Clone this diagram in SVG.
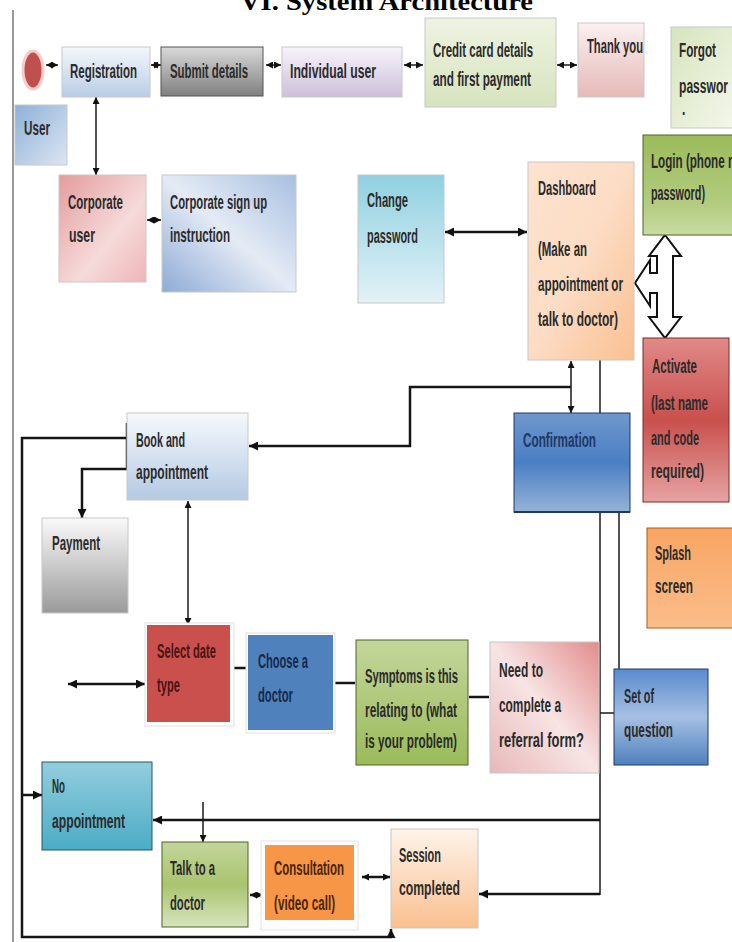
<svg xmlns="http://www.w3.org/2000/svg" width="732" height="942" viewBox="0 0 732 942">
<defs>
<style>
.t{font-family:"Liberation Sans",Arial,sans-serif;font-weight:bold;font-size:20px;fill:#2b2b2b}
.c{fill:none;stroke:#151515;stroke-width:2.5}
.th{fill:none;stroke:#1a1a1a;stroke-width:1.5}
.box{stroke:#c8c8c8;stroke-width:1}
</style>
<marker id="ah" viewBox="0 0 10 10" refX="10" refY="5" markerWidth="9" markerHeight="9" markerUnits="userSpaceOnUse" orient="auto-start-reverse"><path d="M0,0 L10,5 L0,10 Z" fill="#111"/></marker>
<marker id="as" viewBox="0 0 10 10" refX="10" refY="5" markerWidth="7" markerHeight="7" markerUnits="userSpaceOnUse" orient="auto-start-reverse"><path d="M0,0 L10,5 L0,10 Z" fill="#111"/></marker>
<linearGradient id="gReg" x1="0" y1="0" x2="0" y2="1"><stop offset="0" stop-color="#f4f7fb"/><stop offset="1" stop-color="#b9cde5"/></linearGradient>
<linearGradient id="gSub" x1="0" y1="0" x2="0" y2="1"><stop offset="0" stop-color="#d9d9d9"/><stop offset="1" stop-color="#7f7f7f"/></linearGradient>
<linearGradient id="gInd" x1="0" y1="0" x2="0" y2="1"><stop offset="0" stop-color="#f7f4fa"/><stop offset="1" stop-color="#ccc0da"/></linearGradient>
<linearGradient id="gCre" x1="0" y1="0" x2="0" y2="1"><stop offset="0" stop-color="#eef3e2"/><stop offset="1" stop-color="#d7e4bd"/></linearGradient>
<linearGradient id="gThk" x1="0" y1="0" x2="0" y2="1"><stop offset="0" stop-color="#fbf0f0"/><stop offset="1" stop-color="#e6b9b8"/></linearGradient>
<linearGradient id="gFor" x1="0" y1="0" x2="1" y2="1"><stop offset="0" stop-color="#d7e4bd"/><stop offset="1" stop-color="#f4f8ec"/></linearGradient>
<linearGradient id="gUsr" x1="0" y1="0" x2="1" y2="1"><stop offset="0" stop-color="#8eb0d8"/><stop offset="1" stop-color="#dce6f2"/></linearGradient>
<linearGradient id="gCu" x1="0" y1="0" x2="1" y2="1"><stop offset="0" stop-color="#e49c9c"/><stop offset="0.6" stop-color="#f6dada"/><stop offset="1" stop-color="#eeb6b6"/></linearGradient>
<linearGradient id="gCs" x1="0" y1="1" x2="1" y2="0"><stop offset="0" stop-color="#8eaad6"/><stop offset="0.5" stop-color="#e4ebf5"/><stop offset="1" stop-color="#a8bfe0"/></linearGradient>
<linearGradient id="gChg" x1="0" y1="0" x2="0" y2="1"><stop offset="0" stop-color="#8fd0e0"/><stop offset="1" stop-color="#e3f2f7"/></linearGradient>
<linearGradient id="gDash" x1="0" y1="0" x2="1" y2="1"><stop offset="0" stop-color="#fde3cf"/><stop offset="0.5" stop-color="#fcdcc4"/><stop offset="1" stop-color="#fac090"/></linearGradient>
<linearGradient id="gLog" x1="0" y1="0" x2="0" y2="1"><stop offset="0" stop-color="#9bbb59"/><stop offset="0.7" stop-color="#b3cc80"/><stop offset="1" stop-color="#c9dca3"/></linearGradient>
<linearGradient id="gAct" x1="0" y1="0" x2="0" y2="1"><stop offset="0" stop-color="#e08a88"/><stop offset="0.5" stop-color="#c9504d"/><stop offset="1" stop-color="#e6a3a2"/></linearGradient>
<linearGradient id="gSpl" x1="0" y1="0" x2="0" y2="1"><stop offset="0" stop-color="#f8a563"/><stop offset="1" stop-color="#fbbd8a"/></linearGradient>
<linearGradient id="gCon" x1="0" y1="0" x2="0" y2="1"><stop offset="0" stop-color="#6f97cc"/><stop offset="0.5" stop-color="#4a7fc4"/><stop offset="1" stop-color="#95b3d7"/></linearGradient>
<linearGradient id="gBook" x1="0" y1="0" x2="0" y2="1"><stop offset="0" stop-color="#f6f9fc"/><stop offset="1" stop-color="#b4c9e3"/></linearGradient>
<linearGradient id="gPay" x1="0" y1="0" x2="0" y2="1"><stop offset="0" stop-color="#fafafa"/><stop offset="1" stop-color="#9a9a9a"/></linearGradient>
<linearGradient id="gSym" x1="0" y1="0" x2="0" y2="1"><stop offset="0" stop-color="#c3d69b"/><stop offset="1" stop-color="#9bbb59"/></linearGradient>
<linearGradient id="gNeed" x1="0" y1="1" x2="1" y2="0"><stop offset="0" stop-color="#e8b8b8"/><stop offset="0.5" stop-color="#f8e4e4"/><stop offset="1" stop-color="#e28c8c"/></linearGradient>
<linearGradient id="gSet" x1="0" y1="0" x2="0" y2="1"><stop offset="0" stop-color="#5a8ace"/><stop offset="0.5" stop-color="#a6c0e3"/><stop offset="1" stop-color="#4f81bd"/></linearGradient>
<linearGradient id="gNo" x1="0" y1="0" x2="0" y2="1"><stop offset="0" stop-color="#93cddd"/><stop offset="1" stop-color="#4bacc6"/></linearGradient>
<linearGradient id="gTalk" x1="0" y1="0" x2="0" y2="1"><stop offset="0" stop-color="#c3d69b"/><stop offset="0.5" stop-color="#a9c46f"/><stop offset="1" stop-color="#d7e4bd"/></linearGradient>
<linearGradient id="gSes" x1="0" y1="0" x2="0" y2="1"><stop offset="0" stop-color="#fef3ea"/><stop offset="1" stop-color="#fac090"/></linearGradient>
</defs>
<rect width="732" height="942" fill="#fff"/>
<text x="240" y="10" font-family="'Liberation Serif',serif" font-weight="bold" font-size="25" fill="#000" textLength="293" lengthAdjust="spacingAndGlyphs">VI. System Architecture</text>
<line x1="13" y1="10" x2="13" y2="942" stroke="#777" stroke-width="1.5"/>

<g id="connectors">
<line class="th" x1="46" y1="65" x2="58" y2="65" marker-start="url(#as)" marker-end="url(#as)"/>
<line class="th" x1="151" y1="65" x2="161" y2="65" marker-start="url(#as)" marker-end="url(#as)"/>
<line class="th" x1="266" y1="65" x2="281" y2="65" marker-start="url(#as)" marker-end="url(#as)"/>
<line class="th" x1="404" y1="65" x2="423" y2="65" marker-start="url(#as)" marker-end="url(#as)"/>
<line class="th" x1="557" y1="65" x2="577" y2="65" marker-start="url(#as)" marker-end="url(#as)"/>
<line class="th" x1="96" y1="97" x2="96" y2="175" marker-start="url(#as)" marker-end="url(#as)"/>
<line class="th" x1="147" y1="220" x2="161" y2="220" marker-start="url(#as)" marker-end="url(#as)"/>
<line class="c" x1="445" y1="232" x2="527" y2="232" marker-start="url(#ah)" marker-end="url(#ah)"/>
<line class="th" x1="571" y1="361" x2="571" y2="413" marker-start="url(#as)" marker-end="url(#as)"/>
<path class="c" d="M571,387 H410 V446 H249" marker-end="url(#ah)"/>
<line class="th" x1="600" y1="360" x2="600" y2="895" stroke-width="2"/>
<line class="th" x1="619" y1="512" x2="619" y2="669" stroke-width="2"/>
<line class="th" x1="600" y1="713" x2="614" y2="713" stroke-width="2"/>
<path class="c" d="M600,820 H153" marker-end="url(#ah)"/>
<path class="c" d="M600,894 H479" marker-end="url(#ah)"/>
<line class="c" x1="127" y1="423" x2="127" y2="470"/>
<path class="c" d="M127,438 H22 V937 H391 V929" marker-end="url(#ah)"/>
<path class="c" d="M127,469 H82 V518" marker-end="url(#ah)"/>
<path class="c" d="M22,795 H42" marker-end="url(#ah)"/>
<line class="th" x1="188" y1="501" x2="188" y2="625" marker-start="url(#as)" marker-end="url(#as)"/>
<line class="c" x1="68" y1="684" x2="145" y2="684" marker-start="url(#ah)" marker-end="url(#ah)"/>
<line class="c" x1="231" y1="668" x2="247" y2="668"/>
<line class="c" x1="334" y1="683" x2="355" y2="683"/>
<line class="c" x1="469" y1="697" x2="489" y2="697"/>
<path class="th" d="M203,802 V842" marker-end="url(#as)"/>
<line class="c" x1="250" y1="895" x2="263" y2="895" stroke-width="2" marker-start="url(#as)" marker-end="url(#as)"/>
<line class="c" x1="362" y1="877" x2="390" y2="877" stroke-width="2" marker-start="url(#as)" marker-end="url(#as)"/>
<polygon points="665,235 681,256 673,256 673,317 681,317 665,338 649,317 657,317 657,293 650,293 650,306 635,283 650,260 650,273 657,273 657,256 649,256" fill="#fff" stroke="#111" stroke-width="2" stroke-linejoin="miter"/>
</g>

<g id="user-start"><ellipse cx="33" cy="70" rx="10" ry="19" fill="#c0504d" stroke="#f3cccc" stroke-width="3"/></g>
<g id="registration"><rect class="box" x="62" y="47" width="88" height="50" fill="url(#gReg)"/><text class="t" transform="translate(70,78) scale(0.6,1)" textLength="111.7" lengthAdjust="spacingAndGlyphs">Registration</text></g>
<g id="submit-details"><rect x="161" y="47" width="102" height="49" fill="url(#gSub)" stroke="#555"/><text class="t" transform="translate(170,78) scale(0.6,1)" textLength="130" lengthAdjust="spacingAndGlyphs">Submit details</text></g>
<g id="individual-user"><rect class="box" x="282" y="47" width="120" height="50" fill="url(#gInd)"/><text class="t" transform="translate(290,78) scale(0.6,1)" textLength="143.3" lengthAdjust="spacingAndGlyphs">Individual user</text></g>
<g id="credit-card"><rect class="box" x="425" y="18" width="131" height="89" fill="url(#gCre)"/><text class="t" transform="translate(433,57) scale(0.6,1)" textLength="166.7" lengthAdjust="spacingAndGlyphs">Credit card details</text><text class="t" transform="translate(433,86) scale(0.6,1)" textLength="163.3" lengthAdjust="spacingAndGlyphs">and first payment</text></g>
<g id="thank-you"><rect class="box" x="578" y="23" width="66" height="74" fill="url(#gThk)"/><text class="t" transform="translate(587,53) scale(0.6,1)" textLength="93.3" lengthAdjust="spacingAndGlyphs">Thank you</text></g>
<g id="forgot-password"><rect class="box" x="671" y="27" width="70" height="101" fill="url(#gFor)"/><text class="t" transform="translate(679,57) scale(0.6,1)" textLength="61.7" lengthAdjust="spacingAndGlyphs">Forgot</text><text class="t" transform="translate(679,93) scale(0.6,1)" textLength="81.7" lengthAdjust="spacingAndGlyphs">passwor</text><text class="t" transform="translate(682,115) scale(0.6,1)">.</text></g>
<g id="user"><rect class="box" x="15" y="105" width="52" height="60" fill="url(#gUsr)"/><text class="t" transform="translate(24,135) scale(0.6,1)" textLength="43.3" lengthAdjust="spacingAndGlyphs">User</text></g>
<g id="corporate-user"><rect class="box" x="59" y="175" width="87" height="107" fill="url(#gCu)"/><text class="t" transform="translate(68,209) scale(0.6,1)" textLength="91.7" lengthAdjust="spacingAndGlyphs">Corporate</text><text class="t" transform="translate(69,242) scale(0.6,1)" textLength="43.3" lengthAdjust="spacingAndGlyphs">user</text></g>
<g id="corporate-signup"><rect class="box" x="162" y="175" width="134" height="117" fill="url(#gCs)"/><text class="t" transform="translate(170,209) scale(0.6,1)" textLength="161.7" lengthAdjust="spacingAndGlyphs">Corporate sign up</text><text class="t" transform="translate(170,242) scale(0.6,1)" textLength="100" lengthAdjust="spacingAndGlyphs">instruction</text></g>
<g id="change-password"><rect class="box" x="358" y="175" width="86" height="128" fill="url(#gChg)"/><text class="t" transform="translate(367,207) scale(0.6,1)" textLength="68.3" lengthAdjust="spacingAndGlyphs">Change</text><text class="t" transform="translate(367,243) scale(0.6,1)" textLength="85" lengthAdjust="spacingAndGlyphs">password</text></g>
<g id="dashboard"><rect class="box" x="528" y="162" width="106" height="198" fill="url(#gDash)"/><text class="t" transform="translate(538,195) scale(0.6,1)" textLength="96.7" lengthAdjust="spacingAndGlyphs">Dashboard</text><text class="t" transform="translate(538,256) scale(0.6,1)" textLength="81.7" lengthAdjust="spacingAndGlyphs">(Make an</text><text class="t" transform="translate(538,291) scale(0.6,1)" textLength="141.7" lengthAdjust="spacingAndGlyphs">appointment or</text><text class="t" transform="translate(538,326) scale(0.6,1)" textLength="133.3" lengthAdjust="spacingAndGlyphs">talk to doctor)</text></g>
<g id="login"><rect x="643" y="135" width="95" height="100" fill="url(#gLog)" stroke="#4f6228" stroke-width="1"/><text class="t" transform="translate(651,168) scale(0.6,1)" textLength="140" lengthAdjust="spacingAndGlyphs">Login (phone n</text><text class="t" transform="translate(651,200) scale(0.6,1)" textLength="90" lengthAdjust="spacingAndGlyphs">password)</text></g>
<g id="activate"><rect x="643" y="338" width="86" height="164" fill="url(#gAct)" stroke="#7a2a28" stroke-width="1"/><text class="t" transform="translate(652,373) scale(0.6,1)" textLength="75" lengthAdjust="spacingAndGlyphs">Activate</text><text class="t" transform="translate(651,410) scale(0.6,1)" textLength="95" lengthAdjust="spacingAndGlyphs">(last name</text><text class="t" transform="translate(651,445) scale(0.6,1)" textLength="80" lengthAdjust="spacingAndGlyphs">and code</text><text class="t" transform="translate(651,478) scale(0.6,1)" textLength="88.3" lengthAdjust="spacingAndGlyphs">required)</text></g>
<g id="splash-screen"><rect x="647" y="528" width="90" height="100" fill="url(#gSpl)" stroke="#b05a14" stroke-width="1"/><text class="t" transform="translate(655,560) scale(0.6,1)" textLength="60" lengthAdjust="spacingAndGlyphs">Splash</text><text class="t" transform="translate(655,593) scale(0.6,1)" textLength="63.3" lengthAdjust="spacingAndGlyphs">screen</text></g>
<g id="confirmation"><rect x="514" y="413" width="116" height="99" fill="url(#gCon)" stroke="#1f3864" stroke-width="1"/><line x1="514" y1="512" x2="630" y2="512" stroke="#1f3864" stroke-width="2"/><text class="t" transform="translate(523,447) scale(0.6,1)" textLength="121.7" lengthAdjust="spacingAndGlyphs" style="fill:#1f3864">Confirmation</text></g>
<g id="book-appointment"><rect class="box" x="127" y="413" width="121" height="87" fill="url(#gBook)"/><text class="t" transform="translate(136,447) scale(0.6,1)" textLength="81.7" lengthAdjust="spacingAndGlyphs">Book and</text><text class="t" transform="translate(136,479) scale(0.6,1)" textLength="120" lengthAdjust="spacingAndGlyphs">appointment</text></g>
<g id="payment"><rect class="box" x="42" y="518" width="86" height="95" fill="url(#gPay)"/><text class="t" transform="translate(52,550) scale(0.6,1)" textLength="80" lengthAdjust="spacingAndGlyphs">Payment</text></g>
<g id="select-date"><rect x="145" y="623" width="89" height="103" fill="#fff" stroke="#e0e0e0"/><rect x="147" y="625" width="83" height="97" fill="#c9504d"/><text class="t" transform="translate(157,658) scale(0.6,1)" textLength="98.3" lengthAdjust="spacingAndGlyphs" style="fill:#4a1414">Select date</text><text class="t" transform="translate(157,692) scale(0.6,1)" textLength="38.3" lengthAdjust="spacingAndGlyphs" style="fill:#4a1414">type</text></g>
<g id="choose-doctor"><rect x="246" y="633" width="89" height="100" fill="#fff" stroke="#e0e0e0"/><rect x="248" y="635" width="85" height="95" fill="#4f81bd"/><text class="t" transform="translate(258,668) scale(0.6,1)" textLength="83.3" lengthAdjust="spacingAndGlyphs" style="fill:#16284a">Choose a</text><text class="t" transform="translate(258,702) scale(0.6,1)" textLength="58.3" lengthAdjust="spacingAndGlyphs" style="fill:#16284a">doctor</text></g>
<g id="symptoms"><rect x="356" y="640" width="112" height="125" fill="url(#gSym)" stroke="#4f6228" stroke-width="1"/><text class="t" transform="translate(365,683) scale(0.6,1)" textLength="155" lengthAdjust="spacingAndGlyphs">Symptoms is this</text><text class="t" transform="translate(365,717) scale(0.6,1)" textLength="153.3" lengthAdjust="spacingAndGlyphs">relating to (what</text><text class="t" transform="translate(365,748) scale(0.6,1)" textLength="153.3" lengthAdjust="spacingAndGlyphs">is your problem)</text></g>
<g id="referral"><rect class="box" x="490" y="642" width="109" height="131" fill="url(#gNeed)"/><text class="t" transform="translate(499,677) scale(0.6,1)" textLength="73.3" lengthAdjust="spacingAndGlyphs">Need to</text><text class="t" transform="translate(499,712) scale(0.6,1)" textLength="103.3" lengthAdjust="spacingAndGlyphs">complete a</text><text class="t" transform="translate(499,747) scale(0.6,1)" textLength="141.7" lengthAdjust="spacingAndGlyphs">referral form?</text></g>
<g id="set-of-question"><rect x="614" y="669" width="94" height="96" fill="url(#gSet)" stroke="#1f3864" stroke-width="1"/><text class="t" transform="translate(624,703) scale(0.6,1)" textLength="50" lengthAdjust="spacingAndGlyphs">Set of</text><text class="t" transform="translate(624,737) scale(0.6,1)" textLength="81.7" lengthAdjust="spacingAndGlyphs">question</text></g>
<g id="no-appointment"><rect x="42" y="762" width="110" height="88" fill="url(#gNo)" stroke="#215968" stroke-width="1"/><text class="t" transform="translate(52,793) scale(0.6,1)" textLength="21.7" lengthAdjust="spacingAndGlyphs">No</text><text class="t" transform="translate(52,828) scale(0.6,1)" textLength="121.7" lengthAdjust="spacingAndGlyphs">appointment</text></g>
<g id="talk-doctor"><rect x="162" y="842" width="86" height="85" fill="url(#gTalk)" stroke="#4f6228" stroke-width="1"/><text class="t" transform="translate(170,875) scale(0.6,1)" textLength="75" lengthAdjust="spacingAndGlyphs">Talk to a</text><text class="t" transform="translate(170,910) scale(0.6,1)" textLength="58.3" lengthAdjust="spacingAndGlyphs">doctor</text></g>
<g id="consultation"><rect x="261" y="841" width="97" height="89" fill="#fdfdfd" stroke="#e2e2e2"/><rect x="265" y="845" width="89" height="75" fill="#f79646"/><text class="t" transform="translate(274,875) scale(0.6,1)" textLength="116.7" lengthAdjust="spacingAndGlyphs" style="fill:#4a2508">Consultation</text><text class="t" transform="translate(274,910) scale(0.6,1)" textLength="101.7" lengthAdjust="spacingAndGlyphs" style="fill:#4a2508">(video call)</text></g>
<g id="session-completed"><rect class="box" x="391" y="829" width="87" height="99" fill="url(#gSes)"/><text class="t" transform="translate(399,862) scale(0.6,1)" textLength="70" lengthAdjust="spacingAndGlyphs">Session</text><text class="t" transform="translate(399,895) scale(0.6,1)" textLength="101.7" lengthAdjust="spacingAndGlyphs">completed</text></g>
</svg>
